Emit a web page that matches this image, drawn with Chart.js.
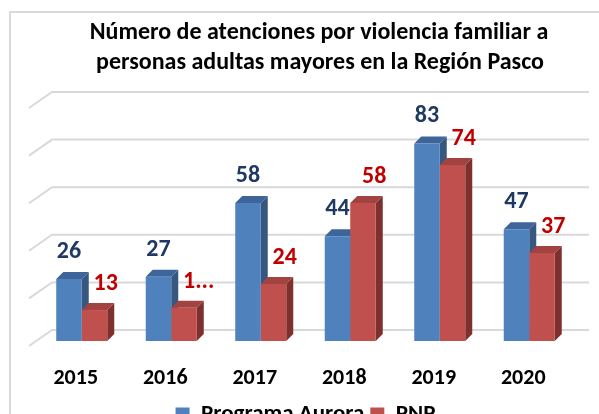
<!DOCTYPE html>
<html>
<head>
<meta charset="utf-8">
<script src="https://cdn.jsdelivr.net/npm/chart.js@4/dist/chart.umd.min.js"></script>
<style>
  html, body { margin: 0; padding: 0; overflow: hidden; background: #fff; width: 599px; height: 414px; }
  #frame { position: absolute; left: 9px; top: 11px; width: 620px; height: 460px; border: 2px solid #D9D9D9; box-sizing: border-box; }
  #wrap { position: absolute; left: 0; top: 0; width: 599px; height: 440px; }
</style>
</head>
<body>
<div id="frame"></div>
<div id="wrap"><canvas id="c" width="599" height="440"></canvas></div>
<script>
// ---- data ----
const categories = ['2015', '2016', '2017', '2018', '2019', '2020'];
const aurora = [26, 27, 58, 44, 83, 47];
const pnp = [13, 14, 24, 58, 74, 37];
const pnpLabelText = ['13', '1...', '24', '58', '74', '37'];
const seriesNames = ['Programa Aurora', 'PNP'];
const titleLines = ['Número de atenciones por violencia familiar a', 'personas adultas mayores en la Región Pasco'];
const yTicks = [0, 20, 40, 60, 80, 100];

const FONT = 'Carlito, Lato, "Liberation Sans", sans-serif';
const DEPTH_X = 7, DEPTH_Y = 7;
const faceColors = [
  { side: '#36577F', top: '#3E659A' },
  { side: '#7E302E', top: '#A04341' }
];

const titlePlugin = {
  id: 'titleText',
  afterDraw(chart) {
    const ctx = chart.ctx;
    ctx.save();
    ctx.fillStyle = '#000';
    ctx.font = 'bold 24px ' + FONT;
    ctx.textAlign = 'center';
    ctx.textBaseline = 'middle';
    ctx.fillText(titleLines[0], 319, 33);
    ctx.fillText(titleLines[1], 320, 63);
    ctx.restore();
  }
};

const gridPlugin = {
  id: 'grid3d',
  beforeDatasetsDraw(chart) {
    const ctx = chart.ctx;
    const ys = chart.scales.y;
    const area = chart.chartArea;
    ctx.save();
    ctx.strokeStyle = '#D9D9D9';
    ctx.lineWidth = 2;
    ys.ticks.forEach(t => {
      const yb = ys.getPixelForValue(t.value) - 11;
      ctx.beginPath();
      ctx.moveTo(area.left - 8, yb + 16);
      ctx.lineTo(area.left + 15, yb);
      ctx.lineTo(area.right + 15, yb);
      ctx.stroke();
    });
    // side & top faces of bars (drawn before fronts)
    chart.data.datasets.forEach((ds, di) => {
      const meta = chart.getDatasetMeta(di);
      meta.data.forEach(bar => {
        const p = bar.getProps(['x', 'y', 'base', 'width'], true);
        const l = p.x - p.width / 2, r = p.x + p.width / 2;
        ctx.fillStyle = faceColors[di].side;
        ctx.beginPath();
        ctx.moveTo(r, p.y);
        ctx.lineTo(r + DEPTH_X, p.y - DEPTH_Y);
        ctx.lineTo(r + DEPTH_X, p.base - DEPTH_Y);
        ctx.lineTo(r, p.base);
        ctx.closePath();
        ctx.fill();
        ctx.fillStyle = faceColors[di].top;
        ctx.beginPath();
        ctx.moveTo(l, p.y);
        ctx.lineTo(l + DEPTH_X, p.y - DEPTH_Y);
        ctx.lineTo(r + DEPTH_X, p.y - DEPTH_Y);
        ctx.lineTo(r, p.y);
        ctx.closePath();
        ctx.fill();
      });
    });
    ctx.restore();
  }
};

const labelPlugin = {
  id: 'valueLabels',
  afterDatasetsDraw(chart) {
    const ctx = chart.ctx;
    ctx.save();
    ctx.font = 'bold 24px ' + FONT;
    ctx.textBaseline = 'middle';
    chart.getDatasetMeta(0).data.forEach((bar, i) => {
      ctx.fillStyle = '#1F3864';
      ctx.textAlign = 'center';
      ctx.fillText(String(aurora[i]), bar.x, bar.y - 27);
    });
    chart.getDatasetMeta(1).data.forEach((bar, i) => {
      ctx.fillStyle = '#C00000';
      ctx.textAlign = 'left';
      ctx.fillText(pnpLabelText[i], bar.x - 1, bar.y - 26);
    });
    ctx.restore();
  }
};

new Chart(document.getElementById('c'), {
  type: 'bar',
  data: {
    labels: categories,
    datasets: [
      { label: seriesNames[0], data: aurora, backgroundColor: '#4F81BD', borderWidth: 0 },
      { label: seriesNames[1], data: pnp, backgroundColor: '#C0504D', borderWidth: 0 }
    ]
  },
  options: {
    responsive: false,
    animation: false,
    layout: { padding: { left: 37, right: 25, top: 103, bottom: 4 } },
    datasets: { bar: { categoryPercentage: 0.57, barPercentage: 1 } },
    scales: {
      x: {
        grid: { display: false },
        border: { display: false },
        ticks: { color: '#000', font: { family: FONT, size: 22, weight: 'bold' }, padding: 16, labelOffset: -6 },
        afterFit(s) { s.height = 56; }
      },
      y: {
        display: false,
        min: 0, max: 100,
        afterBuildTicks(s) { s.ticks = yTicks.map(v => ({ value: v })); }
      }
    },
    plugins: {
      title: { display: false },
      tooltip: { enabled: false },
      legend: {
        position: 'bottom',
        labels: {
          color: '#000',
          font: { family: FONT, size: 23, weight: 'bold' },
          boxWidth: 14, boxHeight: 14, padding: 6
        }
      }
    }
  },
  plugins: [gridPlugin, labelPlugin, titlePlugin]
});
</script>
</body>
</html>
